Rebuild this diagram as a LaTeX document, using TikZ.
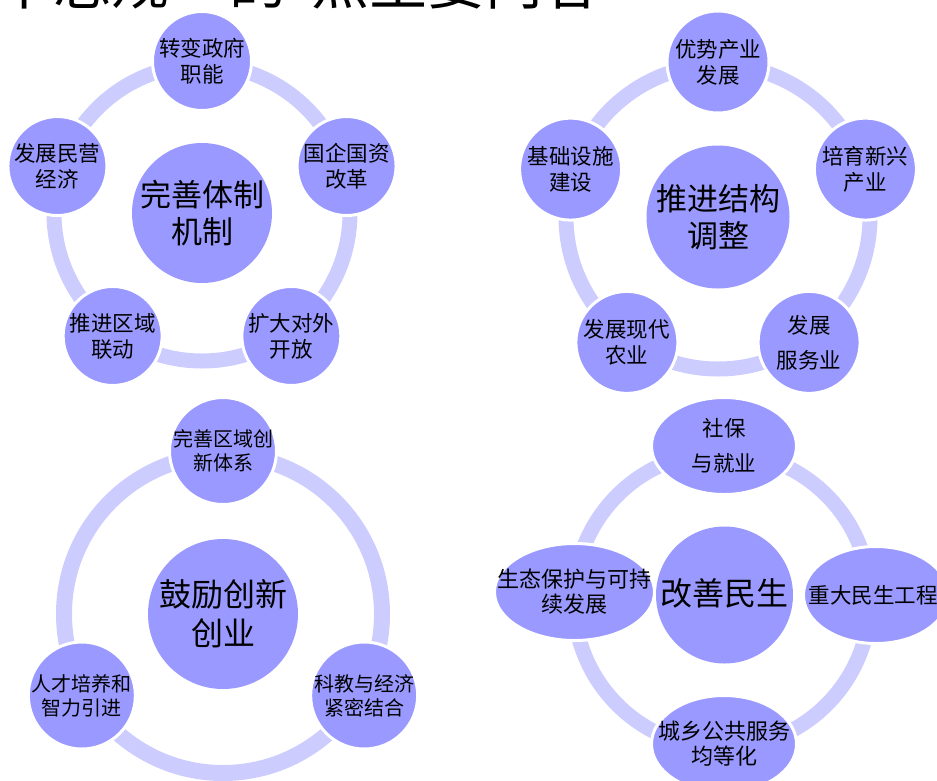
\documentclass[tikz,border=0pt]{standalone}
\usepackage{fontspec}
\setmainfont{Noto Sans CJK SC}
\usetikzlibrary{shapes.geometric,calc}
\definecolor{satcol}{HTML}{9999FF}
\definecolor{ringcol}{HTML}{CCCCFF}
\begin{document}
\begin{tikzpicture}[x=1pt,y=-1pt,
  hub/.style={circle,fill=satcol,inner sep=0pt},
  sat/.style={circle,fill=satcol,draw=white,line width=3pt,inner sep=0pt},
  satell/.style={ellipse,fill=satcol,draw=white,line width=3pt,inner sep=0pt},
  ring/.style={draw=ringcol,line width=15pt},
  txt/.style={align=center,inner sep=0pt,text=black},
  big/.style={txt,font=\fontsize{31}{37}\selectfont},
  small/.style={txt,font=\fontsize{21.5}{26}\selectfont},
  smaller/.style={txt,font=\fontsize{20}{24}\selectfont},
  titletxt/.style={anchor=base west,inner sep=0pt,font=\fontsize{58}{60}\selectfont}
]
\useasboundingbox (0,0) rectangle (937,780);

% title (cut off by the top edge, as in the reference)
\node[titletxt] (t1) at (-5,4.5) {十总规};
\node[titletxt] (t2) at (229,4.5) {的};
\node[titletxt] (t3) at (311,4.5) {点主要内容};

% ---------- quadrant 1 ----------
\coordinate (qa) at (202,213);
\draw[ring] (qa) circle[radius=148pt];
\node[hub,minimum size=140pt] (a0) at (qa) {};
\node[big] (a0t) at (a0) {完善体制\\机制};
\node[sat,minimum size=99pt] (a1) at ($(qa)+(-90:152)$) {};
\node[sat,minimum size=99pt] (a2) at ($(qa)+(-18:152)$) {};
\node[sat,minimum size=99pt] (a3) at ($(qa)+(54:152)$) {};
\node[sat,minimum size=99pt] (a4) at ($(qa)+(126:152)$) {};
\node[sat,minimum size=99pt] (a5) at ($(qa)+(-162:152)$) {};
\node[small] (a1t) at (a1) {转变政府\\职能};
\node[small] (a2t) at (a2) {国企国资\\改革};
\node[small] (a3t) at (a3) {扩大对外\\开放};
\node[small] (a4t) at (a4) {推进区域\\联动};
\node[small] (a5t) at (a5) {发展民营\\经济};

% ---------- quadrant 2 ----------
\coordinate (qb) at (718,217);
\draw[ring] (qb) circle[radius=152pt];
\node[hub,minimum size=143pt] (b0) at (qb) {};
\node[big] (b0t) at (b0) {推进结构\\调整};
\node[sat,minimum size=102pt] (b1) at ($(qb)+(-90:155)$) {};
\node[sat,minimum size=102pt] (b2) at ($(qb)+(-18:155)$) {};
\node[sat,minimum size=102pt] (b3) at ($(qb)+(54:155)$) {};
\node[sat,minimum size=102pt] (b4) at ($(qb)+(126:155)$) {};
\node[sat,minimum size=102pt] (b5) at ($(qb)+(-162:155)$) {};
\node[small] (b1t) at (b1) {优势产业\\发展};
\node[small] (b2t) at (b2) {培育新兴\\产业};
\node[small] (b3t) at (b3) {发展\\[9pt]服务业};
\node[small] (b4t) at (b4) {发展现代\\农业};
\node[small] (b5t) at (b5) {基础设施\\建设};

% ---------- quadrant 3 ----------
\coordinate (qc) at (223,614);
\draw[ring,line width=16pt] (qc) circle[radius=159pt];
\node[hub,minimum size=150pt] (c0) at (qc) {};
\node[big,font=\fontsize{32}{39}\selectfont] (c0t) at (c0) {鼓励创新\\创业};
\node[sat,minimum size=107pt] (c1) at ($(qc)+(-90:163)$) {};
\node[sat,minimum size=107pt] (c2) at ($(qc)+(30:163)$) {};
\node[sat,minimum size=107pt] (c3) at ($(qc)+(150:163)$) {};
\node[smaller] (c1t) at (c1) {完善区域创\\新体系};
\node[smaller] (c2t) at (c2) {科教与经济\\紧密结合};
\node[smaller] (c3t) at (c3) {人才培养和\\智力引进};

% ---------- quadrant 4 ----------
\coordinate (qd) at (722,600);
\draw[ring] (qd) circle[radius=148pt];
\node[hub,minimum size=137pt] (d0) at (724.5,595) {};
\node[big,font=\fontsize{32}{39}\selectfont] (d0t) at ($(d0)+(0,-2)$) {改善民生};
\node[satell,minimum width=145pt,minimum height=97pt] (d1) at (724,446) {};
\node[satell,minimum width=145pt,minimum height=97pt] (d2) at (876,595) {};
\node[satell,minimum width=145pt,minimum height=97pt] (d4) at (724,744) {};
\node[satell,minimum width=160pt,minimum height=97pt] (d3) at (574.5,592) {};
\node[small] (d1t) at (d1) {社保\\[9pt]与就业};
\node[small] (d2t) at ($(d2)+(-3,0)$) {重大民生工程};
\node[small,font=\fontsize{22}{25}\selectfont] (d3t) at (d3) {生态保护与可持\\续发展};
\node[small,font=\fontsize{22}{25}\selectfont] (d4t) at (d4) {城乡公共服务\\均等化};
\end{tikzpicture}
\end{document}
